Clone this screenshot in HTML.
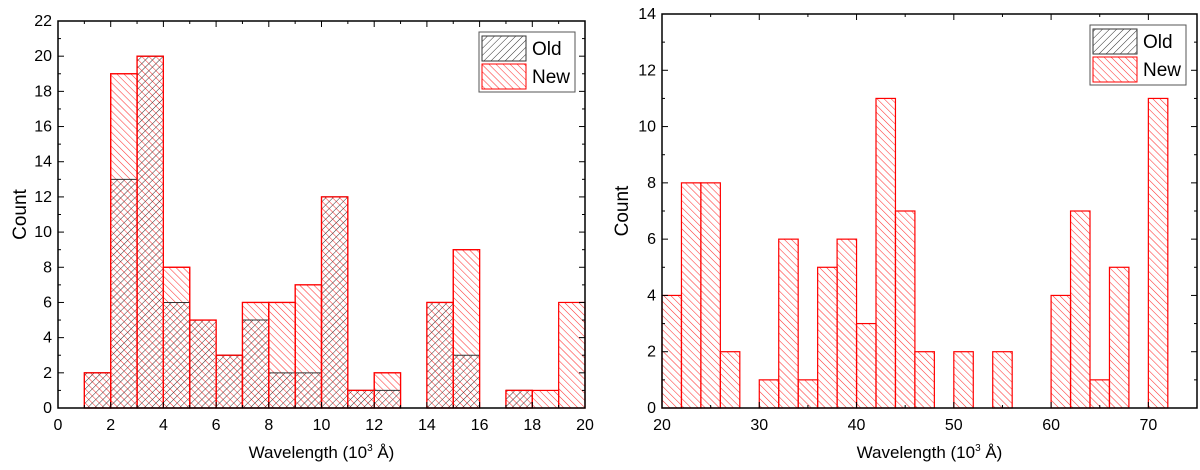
<!DOCTYPE html>
<html><head><meta charset="utf-8"><style>
html,body{margin:0;padding:0;background:#fff}
svg{display:block;font-family:"Liberation Sans",Arial,sans-serif}
</style></head><body>
<svg id="c" width="1200" height="470">
<defs>
<pattern id="pr" patternUnits="userSpaceOnUse" width="5" height="5" patternTransform="rotate(-45)"><line x1="0" y1="0" x2="0" y2="5" stroke="#f33" stroke-width="1.1"/></pattern>
<pattern id="pk" patternUnits="userSpaceOnUse" width="5" height="5" patternTransform="rotate(45)"><line x1="0" y1="0" x2="0" y2="5" stroke="#333" stroke-width="1"/></pattern>
</defs>
</svg>
<script>
const leftBins=[1,2,3,4,5,6,7,8,9,10,11,12,13,14,15,16,17,18,19];
const leftNew=[2,19,20,8,5,3,6,6,7,12,1,2,0,6,9,0,1,1,6];
const leftOld=[2,13,20,6,5,3,5,2,2,12,1,1,0,6,3,0,1,0,0];
const leftXTicks=[0,2,4,6,8,10,12,14,16,18,20];
const leftYTicks=[0,2,4,6,8,10,12,14,16,18,20,22];
const rightBins=[20,22,24,26,28,30,32,34,36,38,40,42,44,46,48,50,52,54,56,58,60,62,64,66,68,70];
const rightNew=[4,8,8,2,0,1,6,1,5,6,3,11,7,2,0,2,0,2,0,0,4,7,1,5,0,11];
const rightXTicks=[20,30,40,50,60,70];
const rightYTicks=[0,2,4,6,8,10,12,14];
const svg=document.getElementById('c');const NS='http://www.w3.org/2000/svg';
function el(t,a,p){const e=document.createElementNS(NS,t);for(const k in a)e.setAttribute(k,a[k]);(p||svg).appendChild(e);return e;}
function panel(o){
 const g=el('g',{});
 
 
 const X=v=>o.x0+(v-o.xmin)/(o.xmax-o.xmin)*(o.x1-o.x0);
 const Y=v=>o.y0-(v-o.ymin)/(o.ymax-o.ymin)*(o.y0-o.y1);
 o.bins.forEach((b,i)=>{
  const v=o.nw[i];if(v<=0)return;
  const r=el('rect',{x:X(b),y:Y(v),width:X(b+o.bw)-X(b),height:Y(0)-Y(v),fill:'url(#pr)',stroke:'#f00','stroke-width':1.2},g);
  
  
  if(o.old&&o.old[i]>0){const ov=o.old[i];
   const q=el('rect',{x:X(b),y:Y(ov),width:X(b+o.bw)-X(b),height:Y(0)-Y(ov),fill:'url(#pk)',stroke:'none'},g);
   
   
   el('line',{x1:X(b),x2:X(b+o.bw),y1:Y(ov),y2:Y(ov),stroke:'#333','stroke-width':1},g);
   el('rect',{x:X(b),y:Y(v),width:X(b+o.bw)-X(b),height:Y(0)-Y(v),fill:'none',stroke:'#f00','stroke-width':1.2},g);}
 });
 const fr=el('rect',{x:o.x0,y:o.y1,width:o.x1-o.x0,height:o.y0-o.y1,fill:'none',stroke:'#000','stroke-width':1.5},g);
 
 
 for(let v=o.xmin;v<=o.xmax+1e-9;v+=o.xminor){const maj=o.xt.includes(v);const L=maj?6:3;
  el('line',{x1:X(v),x2:X(v),y1:o.y0,y2:o.y0-L,stroke:'#000'},g);el('line',{x1:X(v),x2:X(v),y1:o.y1,y2:o.y1+L,stroke:'#000'},g);}
 for(let v=o.ymin;v<=o.ymax+1e-9;v+=1){const maj=o.yt.includes(v);const L=maj?6:3;
  el('line',{x1:o.x0,x2:o.x0+L,y1:Y(v),y2:Y(v),stroke:'#000'},g);el('line',{x1:o.x1,x2:o.x1-L,y1:Y(v),y2:Y(v),stroke:'#000'},g);}
 o.xt.forEach(v=>{const t=el('text',{x:X(v),y:o.y0+22,'text-anchor':'middle','font-size':16},g);t.textContent=v;
  });
 o.yt.forEach(v=>{const t=el('text',{x:o.x0-6,y:Y(v)+5,'text-anchor':'end','font-size':16},g);t.textContent=v;
  });
 const xt=el('text',{x:(o.x0+o.x1)/2,y:458,'text-anchor':'middle','font-size':17},g);
 xt.innerHTML='Wavelength (10<tspan font-size="10" dy="-7">3</tspan><tspan dy="7"> Å)</tspan>';
 
 const yt=el('text',{x:o.ylx,y:(o.y0+o.y1)/2,'text-anchor':'middle','font-size':19,transform:`rotate(-90 ${o.ylx} ${(o.y0+o.y1)/2})`},g);
 yt.textContent='Count';
 const lg=el('g',{},g);
 const lx=o.lx,ly=o.ly;
 el('rect',{x:lx,y:ly,width:96,height:60,fill:'#fff',stroke:'#555','stroke-width':1},lg);
 el('rect',{x:lx+3,y:ly+4,width:44,height:25,fill:'url(#pk)',stroke:'#333'},lg);
 el('rect',{x:lx+3,y:ly+32,width:44,height:25,fill:'url(#pr)',stroke:'#f00'},lg);
 const t1=el('text',{x:lx+53,y:ly+23,'font-size':19},lg);t1.textContent='Old';
 const t2=el('text',{x:lx+53,y:ly+51,'font-size':19},lg);t2.textContent='New';
}
panel({name:'left-chart',x0:58,x1:585,y0:408,y1:21,xmin:0,xmax:20,ymin:0,ymax:22,bins:leftBins,nw:leftNew,old:leftOld,bw:1,xt:leftXTicks,yt:leftYTicks,xminor:1,ylx:26,lx:479,ly:32});
panel({name:'right-chart',x0:662,x1:1197,y0:408,y1:14,xmin:20,xmax:75,ymin:0,ymax:14,bins:rightBins,nw:rightNew,old:null,bw:2,xt:rightXTicks,yt:rightYTicks,xminor:5,ylx:628,lx:1090,ly:25});
</script>
</body></html>
